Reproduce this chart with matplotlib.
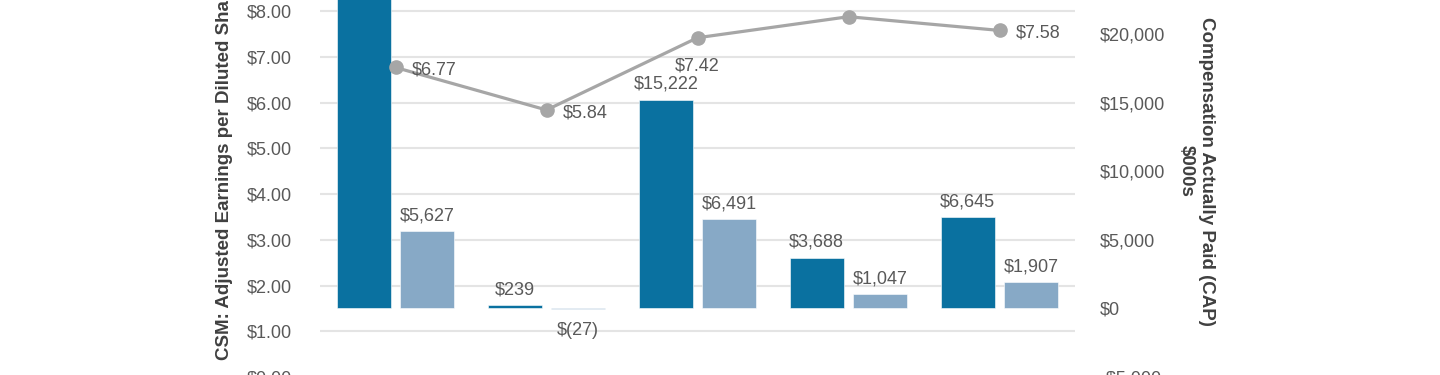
import numpy as np
import matplotlib.pyplot as plt

plt.rcParams["font.family"] = ["Liberation Sans", "DejaVu Sans"]

# data (cropped view)
groups = ["G1", "G2", "G3", "G4", "G5"]
cap_peo = [24000, 239, 15222, 3688, 6645]
cap_neo = [5627, -27, 6491, 1047, 1907]
eps = [6.77, 5.84, 7.42, 7.88, 7.58]
eps_labels = ["$6.77", "$5.84", "$7.42", "$7.88", "$7.58"]

eps_ticks = np.arange(0, 10, 1)
cap_ticks = np.arange(-5000, 25001, 5000)

DARK = "#0a71a0"
LIGHT = "#87a9c6"
LINE = "#a6a6a6"
TEXT = "#595959"
LABEL = "#404040"
GRID = "#e4e4e4"


def money(v):
    if v < 0:
        return f"$({abs(v):,})"
    return f"${v:,}"


fig = plt.figure(figsize=(14.4, 3.75), dpi=100)
ax = fig.add_axes([320 / 1440, -0.0053, 755 / 1440, 1.0973])

x = np.arange(len(groups))

# left axis: EPS scale + gridlines
ax.set_xlim(-0.5, len(groups) - 0.5)
ax.set_ylim(0, 9)
ax.set_yticks(eps_ticks)
ax.set_yticklabels([f"${t:.2f}" for t in eps_ticks])
ax.yaxis.grid(True, color=GRID, linewidth=1.5)
ax.set_axisbelow(True)
ax.set_xticks([])
ax.tick_params(axis="y", length=0, pad=20, labelsize=13, labelcolor=TEXT)
for s in ax.spines.values():
    s.set_visible(False)
ax.set_ylabel("CSM: Adjusted Earnings per Diluted Share", fontsize=13.5,
              fontweight="bold", color=LABEL, va="center")
ax.yaxis.set_label_coords(-0.126, 0.5)

# right axis: CAP bars
ax2 = ax.twinx()
ax2.set_ylim(-5000, 25000)
ax2.set_yticks(cap_ticks)
ax2.set_yticklabels([("-$5,000" if t < 0 else f"${t:,}") for t in cap_ticks])
ax2.tick_params(axis="y", length=0, pad=18, labelsize=13, labelcolor=TEXT)
for s in ax2.spines.values():
    s.set_visible(False)
ax2.patch.set_visible(False)

w = 0.36
off = 0.21
b1 = ax2.bar(x - off, cap_peo, width=w, color=DARK, edgecolor="white", linewidth=0.4)
b2 = ax2.bar(x + off, cap_neo, width=w, color=LIGHT, edgecolor="white", linewidth=0.4)

for bars, vals in [(b1, cap_peo), (b2, cap_neo)]:
    for rect, v in zip(bars, vals):
        cx = rect.get_x() + rect.get_width() / 2
        if v >= 0:
            ax2.annotate(money(v), (cx, v), xytext=(0, 5), textcoords="offset points",
                         ha="center", va="bottom", fontsize=13, color=TEXT)
        else:
            ax2.annotate(money(v), (cx, 0), xytext=(0, -10), textcoords="offset points",
                         ha="center", va="top", fontsize=13, color=TEXT)

ax2.set_ylabel("Compensation Actually Paid (CAP)\n$000s", fontsize=13.5,
               fontweight="bold", color=LABEL, rotation=270, va="center", ha="center",
               linespacing=1.25)
ax2.yaxis.set_label_coords(1.161, 0.5)

# top layer: EPS line
ax3 = ax.twinx()
ax3.set_ylim(ax.get_ylim())
ax3.axis("off")
ax3.plot(x, eps, color=LINE, linewidth=2.3, marker="o", markersize=9.5)

label_offsets = [(12, -1.5, "left", "center"),
                 (12, -2, "left", "center"),
                 (0, -14, "center", "top"),
                 (0, 12, "center", "bottom"),
                 (12, -1.5, "left", "center")]
for xi, v, lab, (dx, dy, ha, va) in zip(x, eps, eps_labels, label_offsets):
    ax3.annotate(lab, (xi, v), xytext=(dx, dy), textcoords="offset points",
                 ha=ha, va=va, fontsize=13, color=TEXT)

fig.savefig("out.png", dpi=100)
